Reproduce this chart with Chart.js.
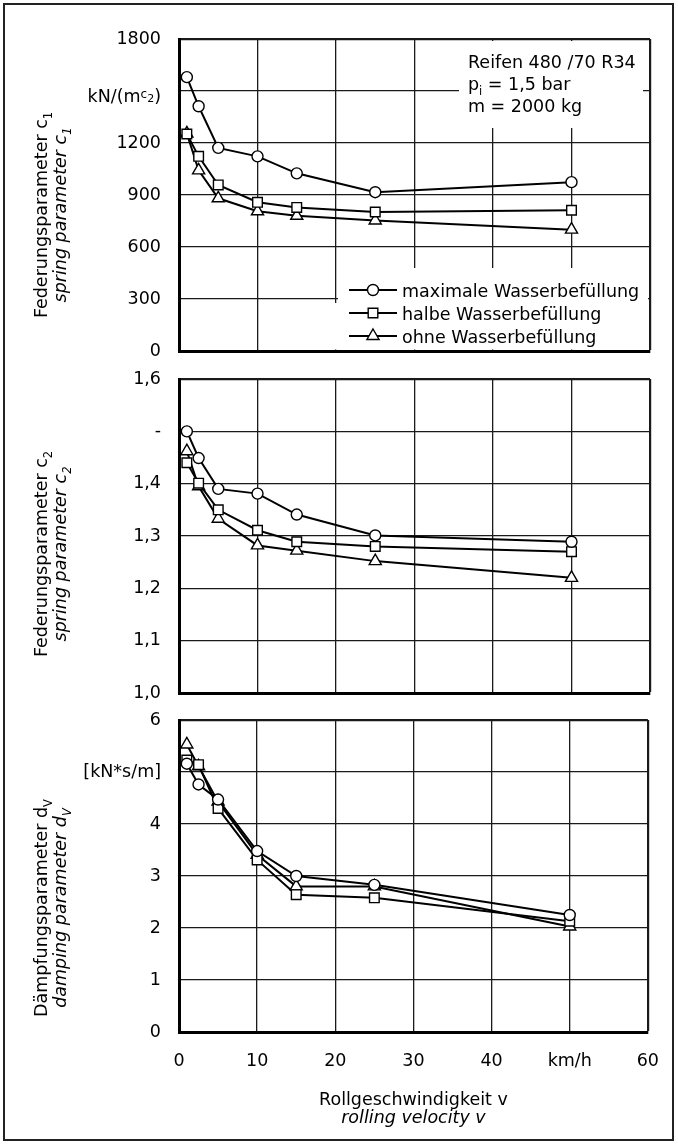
<!DOCTYPE html>
<html><head><meta charset="utf-8">
<script src="https://cdn.jsdelivr.net/npm/chart.js@4.4.1/dist/chart.umd.min.js"></script>
<style>
html,body{margin:0;padding:0;background:#fff;}
body{width:678px;height:1144px;position:relative;overflow:hidden;}
#frame{position:absolute;left:3px;top:3px;width:667px;height:1134px;border:2px solid #222;}
canvas{position:absolute;left:0;}
</style></head><body>
<div id="frame"></div>
<canvas id="c1" width="678" height="390" style="top:0px"></canvas>
<canvas id="c2" width="678" height="400" style="top:340px"></canvas>
<canvas id="c3" width="678" height="454" style="top:690px"></canvas>
<script>
// ---------- data ----------
const xVals = [1, 2.5, 5, 10, 15, 25, 50];
const seriesNames = ['maximale Wasserbefüllung', 'halbe Wasserbefüllung', 'ohne Wasserbefüllung'];

const c1Max  = [1580, 1412, 1172, 1123, 1025, 916, 974];
const c1Half = [1252, 1123, 958, 858, 828, 802, 812];
const c1None = [1255, 1042, 881, 806, 780, 753, 700];

const c2Max  = [1.500, 1.449, 1.390, 1.381, 1.341, 1.301, 1.289];
const c2Half = [1.440, 1.401, 1.350, 1.311, 1.289, 1.280, 1.270];
const c2None = [1.462, 1.395, 1.333, 1.282, 1.272, 1.252, 1.220];

const dvMax  = [5.16, 4.76, 4.47, 3.48, 3.00, 2.83, 2.25];
const dvHalf = [5.23, 5.14, 4.30, 3.31, 2.64, 2.58, 2.13];
const dvNone = [5.53, 5.11, 4.43, 3.41, 2.80, 2.80, 2.03];

const xTickLabels  = ['0', '10', '20', '30', '40', 'km/h', '60'];
const c1TickLabels = ['0', '300', '600', '900', '1200', '', '1800'];
const c1UnitValue = 1500;
const c2TickLabels = ['1,0', '1,1', '1,2', '1,3', '1,4', '-', '1,6'];
const dvTickLabels = ['0', '1', '2', '3', '4', '[kN*s/m]', '6'];

const annotationLines = ['Reifen 480 /70 R34', 'p|i| = 1,5 bar', 'm = 2000 kg'];
const xTitle1 = 'Rollgeschwindigkeit v';
const xTitle2 = 'rolling velocity v';

// ---------- helpers ----------
const FAM = "'DejaVu Sans', sans-serif";
const FS = 17.5;
function fontStr(p){ return (p.italic?'italic ':'') + (p.size||FS) + 'px ' + FAM; }
function drawRich(ctx, parts, x, y, align){
  let total = 0;
  parts.forEach(p => { ctx.font = fontStr(p); p.w = ctx.measureText(p.t).width; total += p.w; });
  let cx = align === 'center' ? x - total/2 : (align === 'right' ? x - total : x);
  ctx.textAlign = 'left'; ctx.textBaseline = 'alphabetic';
  parts.forEach(p => { ctx.font = fontStr(p); ctx.fillText(p.t, cx, y + (p.dy||0)); cx += p.w; });
}
function sub(main, s, italic){ return [{t:main, italic}, {t:s, italic, size:11.5, dy:5}]; }

const styles = [
  {pointStyle:'circle', pointRadius:5.5},
  {pointStyle:'rect', pointRadius:6.8},
  {pointStyle:'triangle', pointRadius:7}
];
function makeDatasets(arrs){
  return arrs.map((a, i) => ({
    label: seriesNames[i],
    data: xVals.map((x, j) => ({x, y: a[j]})),
    borderColor:'#000', borderWidth:2,
    pointStyle: styles[i].pointStyle, pointRadius: styles[i].pointRadius,
    pointBackgroundColor:'#fff', pointBorderColor:'#000', pointBorderWidth:1.4,
    fill:false, tension:0
  }));
}

function makeDecor(cfg){
  return {
    id:'decor',
    beforeDatasetsDraw(chart){
      const ctx = chart.ctx;
      ctx.save(); ctx.fillStyle = '#fff';
      (cfg.boxes||[]).forEach(b => ctx.fillRect(b[0], b[1] - cfg.top, b[2]-b[0], b[3]-b[1]));
      ctx.restore();
    },
    afterDatasetsDraw(chart){
      const ctx = chart.ctx;
      ctx.save();
      ctx.fillStyle = '#000';
      cfg.yTitles.forEach(t => {
        ctx.save();
        ctx.translate(t.x, cfg.titleCenter - cfg.top);
        ctx.rotate(-Math.PI/2);
        drawRich(ctx, t.parts, 0, 0, 'center');
        ctx.restore();
      });
      if (cfg.unit) {
        const y = chart.scales.y.getPixelForValue(c1UnitValue) + 11;
        drawRich(ctx, [{t:'kN/(m'}, {t:'c', size:12, dy:-4}, {t:'2', size:11, dy:0}, {t:')'}], 161, y, 'right');
      }
      if (cfg.annotation) {
        annotationLines.forEach((ln, i) => {
          const y = 68 + i*22 - cfg.top;
          const m = ln.split('|');
          const parts = m.length === 3 ? [{t:m[0]}, {t:m[1], size:11.5, dy:5}, {t:m[2]}] : [{t:ln}];
          drawRich(ctx, parts, 468, y, 'left');
        });
      }
      if (cfg.legend) {
        chart.data.datasets.forEach((ds, i) => {
          const y = 290 + i*23 - cfg.top;
          ctx.strokeStyle = '#000'; ctx.lineWidth = 2;
          ctx.beginPath(); ctx.moveTo(349, y); ctx.lineTo(397, y); ctx.stroke();
          ctx.fillStyle = '#fff'; ctx.strokeStyle = '#000'; ctx.lineWidth = 1.4;
          Chart.helpers.drawPoint(ctx, {pointStyle: ds.pointStyle, radius: ds.pointRadius, rotation:0, borderWidth:1.4}, 373, y);
          ctx.fillStyle = '#000';
          drawRich(ctx, [{t:ds.label}], 402, y + 7, 'left');
        });
      }
      if (cfg.xTitle) {
        const cx = (chart.chartArea.left + chart.chartArea.right)/2;
        drawRich(ctx, [{t:xTitle1}], cx, 1105 - cfg.top, 'center');
        drawRich(ctx, [{t:xTitle2, italic:true}], cx, 1123 - cfg.top, 'center');
      }
      ctx.restore();
    }
  };
}

function makeChart(id, cfg){
  const gridW = (ctx, maxVal) => (ctx.tick && Math.abs(ctx.tick.value - maxVal) < 1e-9) ? 2.2 : 1.3;
  const pad = {left:0, right:28, top:cfg.area[0] - cfg.top, bottom:40};
  const chart = new Chart(document.getElementById(id), {
    type:'line',
    data:{datasets: makeDatasets(cfg.data)},
    options:{
      responsive:false, animation:false, events:[],
      layout:{padding:pad},
      plugins:{legend:{display:false}, tooltip:{enabled:false}},
      scales:{
        x:{
          type:'linear', min:0, max:60,
          ticks:{stepSize:10, display:cfg.showX, padding:19, color:'#000', font:{family:FAM, size:FS},
                 callback:(v, i) => xTickLabels[i] ?? ''},
          grid:{color:'#1a1a1a', drawTicks:false, lineWidth: c => gridW(c, 60)},
          border:{display:true, color:'#000', width:3},
          afterFit: s => { s.height = cfg.xHeight; }
        },
        y:{
          type:'linear', min:cfg.min, max:cfg.max,
          ticks:{stepSize:cfg.step, padding:18, color:'#000', font:{family:FAM, size:FS},
                 callback:(v, i) => cfg.tickLabels[i] ?? ''},
          grid:{color:'#1a1a1a', drawTicks:false, lineWidth: c => gridW(c, cfg.max)},
          border:{display:true, color:'#000', width:3},
          afterFit: s => { s.width = 179; }
        }
      }
    },
    plugins:[makeDecor(cfg)]
  });
  // adjust padding so the plot area lands exactly where the reference has it
  const want = {top: cfg.area[0] - cfg.top, bottom: cfg.area[1] - cfg.top, left:179, right:650};
  for (let k = 0; k < 5; k++) {
    const a = chart.chartArea;
    const dt = want.top - a.top, db = a.bottom - want.bottom, dl = want.left - a.left, dr = a.right - want.right;
    if (Math.abs(dt) < 0.3 && Math.abs(db) < 0.3 && Math.abs(dl) < 0.3 && Math.abs(dr) < 0.3) break;
    pad.top += dt; pad.bottom += db; pad.left += dl; pad.right += dr;
    chart.options.layout.padding = {left:pad.left, right:pad.right, top:pad.top, bottom:pad.bottom};
    chart.update();
  }
  return chart;
}

makeChart('c1', {
  top:0, area:[39, 351], xHeight:0, showX:false,
  min:0, max:1800, step:300, tickLabels:c1TickLabels,
  data:[c1Max, c1Half, c1None],
  titleCenter:215,
  yTitles:[{x:47, parts:sub('Federungsparameter c', '1', false)},
           {x:66, parts:sub('spring parameter c', '1', true)}],
  unit:true, annotation:true, legend:true,
  boxes:[[459, 41, 643, 128], [338, 268, 648, 349.5], [331, 303, 341, 349.5]]
});
makeChart('c2', {
  top:340, area:[379, 693], xHeight:0, showX:false,
  min:1.0, max:1.6, step:0.1, tickLabels:c2TickLabels,
  data:[c2Max, c2Half, c2None],
  titleCenter:554,
  yTitles:[{x:47, parts:sub('Federungsparameter c', '2', false)},
           {x:66, parts:sub('spring parameter c', '2', true)}]
});
makeChart('c3', {
  top:690, area:[720, 1032], xHeight:112, showX:true,
  min:0, max:6, step:1, tickLabels:dvTickLabels,
  data:[dvMax, dvHalf, dvNone],
  titleCenter:908,
  yTitles:[{x:47, parts:sub('Dämpfungsparameter d', 'V', false)},
           {x:66, parts:sub('damping parameter d', 'V', true)}],
  xTitle:true
});
</script>
</body></html>
